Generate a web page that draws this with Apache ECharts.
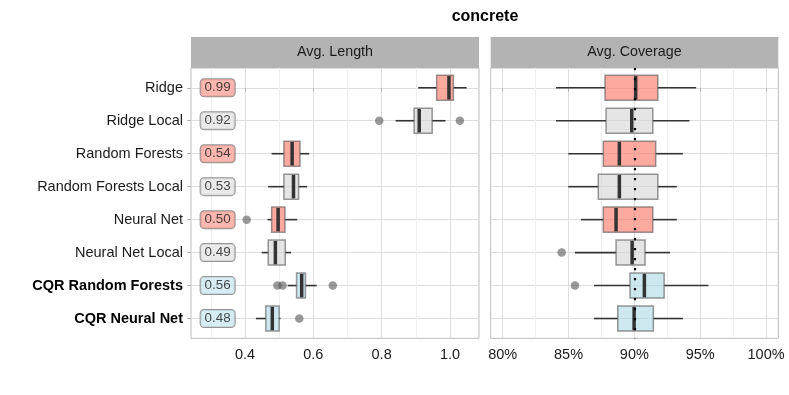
<!DOCTYPE html>
<html>
<head>
<meta charset="utf-8">
<script src="https://cdn.jsdelivr.net/npm/echarts@6.0.0/dist/echarts.min.js"></script>
<style>
html,body{margin:0;padding:0;background:#fff;}
#chart{width:789px;height:395px;}
</style>
</head>
<body>
<div id="chart"></div>
<script>
// ---------------- data ----------------
const categories = ['Ridge', 'Ridge Local', 'Random Forests', 'Random Forests Local',
  'Neural Net', 'Neural Net Local', 'CQR Random Forests', 'CQR Neural Net'];
const groups = ['base', 'local', 'base', 'local', 'base', 'local', 'cqr', 'cqr'];

// [lower whisker, Q1, median, Q3, upper whisker]
const lengthStats = [
  [0.907, 0.961, 0.997, 1.010, 1.049],
  [0.841, 0.895, 0.910, 0.948, 0.987],
  [0.478, 0.514, 0.538, 0.561, 0.588],
  [0.468, 0.514, 0.542, 0.557, 0.582],
  [0.466, 0.478, 0.497, 0.517, 0.553],
  [0.449, 0.468, 0.489, 0.518, 0.535],
  [0.525, 0.551, 0.566, 0.577, 0.610],
  [0.432, 0.461, 0.480, 0.500, 0.504]
];
// [row, value]
const lengthOutliers = [[1, 0.793], [1, 1.029], [4, 0.405], [6, 0.495], [6, 0.510], [6, 0.657], [7, 0.559]];
const lengthMeans = ['0.99', '0.92', '0.54', '0.53', '0.50', '0.49', '0.56', '0.48'];

// coverage in percent
const coverageStats = [
  [84.05, 87.77, 90.10, 91.78, 94.69],
  [84.05, 87.85, 89.80, 91.40, 94.18],
  [84.98, 87.64, 88.86, 91.62, 93.68],
  [84.98, 87.26, 88.86, 91.78, 93.22],
  [85.95, 87.64, 88.61, 91.40, 93.22],
  [85.49, 88.61, 89.83, 90.81, 92.71],
  [86.94, 89.67, 90.76, 92.26, 95.62],
  [86.94, 88.74, 89.98, 91.44, 93.68]
];
const coverageOutliers = [[5, 84.48], [6, 85.49]];
const targetCoverage = 90;

const lengthTicks = [0.4, 0.6, 0.8, 1.0];
const coverageTicks = [80, 85, 90, 95, 100];

// ---------------- styling ----------------
const FONT = 'Liberation Sans, Arial, Helvetica, sans-serif';
const FILLS = { base: 'rgba(250,128,114,0.68)', local: 'rgba(211,211,211,0.6)', cqr: 'rgba(173,216,230,0.6)' };
const LABEL_FILLS = { base: '#fba69c', local: '#e5e5e5', cqr: '#cee8f0' };
const LABEL_X = 0.32;

const P1 = { left: 191, width: 288 };
const P2 = { left: 490.7, width: 287.6 };
const TOP = 68, HEIGHT = 270.3, STRIP_H = 31;

function boxRender(params, api) {
  const row = api.value(0);
  const lo = api.coord([api.value(1), row]);
  const q1 = api.coord([api.value(2), row]);
  const md = api.coord([api.value(3), row]);
  const q3 = api.coord([api.value(4), row]);
  const hi = api.coord([api.value(5), row]);
  const band = Math.abs(api.size([0, 1])[1]);
  const h = band * 0.76;
  const y = lo[1];
  const fill = FILLS[groups[row]];
  return {
    type: 'group',
    children: [
      { type: 'line', shape: { x1: lo[0], y1: y, x2: q1[0], y2: y }, style: { stroke: '#333', lineWidth: 1.6 } },
      { type: 'line', shape: { x1: q3[0], y1: y, x2: hi[0], y2: y }, style: { stroke: '#333', lineWidth: 1.6 } },
      { type: 'rect', shape: { x: q1[0], y: y - h / 2, width: q3[0] - q1[0], height: h },
        style: { fill: fill, stroke: 'rgba(85,85,85,0.6)', lineWidth: 1.5 } },
      { type: 'line', shape: { x1: md[0], y1: y - h / 2 + 0.8, x2: md[0], y2: y + h / 2 - 0.8 },
        style: { stroke: '#333', lineWidth: 3.5 } }
    ]
  };
}

function isTick(v, ticks) {
  return ticks.some(t => Math.abs(t - v) < 1e-6);
}

function yAxisCfg(idx, showLabels) {
  return {
    type: 'value', gridIndex: idx, inverse: true, min: -0.6, max: 7.6,
    minInterval: 1, maxInterval: 1,
    axisLine: { show: false },
    axisTick: { show: showLabels, length: 4, lineStyle: { color: '#b3b3b3' }, customValues: [0, 1, 2, 3, 4, 5, 6, 7] },
    axisLabel: {
      show: showLabels, margin: 8, color: '#1a1a1a', fontFamily: FONT, fontSize: 14.5,
      customValues: [0, 1, 2, 3, 4, 5, 6, 7],
      formatter: function (v) {
        const i = Math.round(v);
        if (Math.abs(v - i) > 1e-6 || i < 0 || i >= categories.length) return '';
        return groups[i] === 'cqr' ? '{b|' + categories[i] + '}' : '{n|' + categories[i] + '}';
      },
      rich: {
        n: { fontFamily: FONT, fontSize: 14.5, color: '#1a1a1a' },
        b: { fontFamily: FONT, fontSize: 14.5, color: '#000', fontWeight: 'bold' }
      }
    },
    splitLine: { show: true, lineStyle: { color: '#dedede', width: 1 } }
  };
}

function xAxisCfg(idx, min, max, step, ticks, fmt) {
  return {
    type: 'value', gridIndex: idx, min: min, max: max,
    minInterval: step, maxInterval: step,
    axisLine: { show: false },
    axisTick: { show: true, length: 4, lineStyle: { color: '#b3b3b3' }, customValues: ticks },
    axisLabel: {
      margin: 9, color: '#1a1a1a', fontFamily: FONT, fontSize: 14.5,
      customValues: ticks,
      showMinLabel: true, showMaxLabel: true,
      formatter: function (v) { return isTick(v, ticks) ? fmt(v) : ''; }
    },
    splitLine: { show: true, lineStyle: { color: '#dedede', width: 1 } },
    minorTick: { show: false, splitNumber: 2 },
    minorSplitLine: { show: true, lineStyle: { color: '#efefef', width: 1 } }
  };
}

const chart = echarts.init(document.getElementById('chart'), null, { renderer: 'canvas' });

const option = {
  animation: false,
  backgroundColor: '#fff',
  grid: [
    { left: P1.left, top: TOP, width: P1.width, height: HEIGHT, show: true, borderColor: '#bdbdbd', borderWidth: 1, backgroundColor: '#fff' },
    { left: P2.left, top: TOP, width: P2.width, height: HEIGHT, show: true, borderColor: '#bdbdbd', borderWidth: 1, backgroundColor: '#fff' }
  ],
  xAxis: [
    xAxisCfg(0, 0.242, 1.085, 0.2, lengthTicks, v => v.toFixed(1)),
    xAxisCfg(1, 79.09, 100.93, 5, coverageTicks, v => Math.round(v) + '%')
  ],
  yAxis: [yAxisCfg(0, true), yAxisCfg(1, false)],
  graphic: [
    { type: 'text', x: 485, y: 17, z: 10,
      style: { text: 'concrete', font: 'bold 16px ' + FONT, fill: '#000', align: 'center', verticalAlign: 'middle', textAlign: 'center', textVerticalAlign: 'middle' } },
    { type: 'rect', shape: { x: P1.left, y: TOP - STRIP_H, width: P1.width, height: STRIP_H }, style: { fill: '#b3b3b3' } },
    { type: 'rect', shape: { x: P2.left, y: TOP - STRIP_H, width: P2.width, height: STRIP_H }, style: { fill: '#b3b3b3' } },
    { type: 'text', x: P1.left + P1.width / 2, y: TOP - STRIP_H / 2, z: 10,
      style: { text: 'Avg. Length', font: '14.3px ' + FONT, fill: '#1a1a1a', align: 'center', verticalAlign: 'middle', textAlign: 'center', textVerticalAlign: 'middle' } },
    { type: 'text', x: P2.left + P2.width / 2, y: TOP - STRIP_H / 2, z: 10,
      style: { text: 'Avg. Coverage', font: '14.3px ' + FONT, fill: '#1a1a1a', align: 'center', verticalAlign: 'middle', textAlign: 'center', textVerticalAlign: 'middle' } }
  ],
  series: [
    {
      type: 'custom', xAxisIndex: 0, yAxisIndex: 0, renderItem: boxRender, z: 3,
      encode: { x: [1, 2, 3, 4, 5], y: 0 },
      data: lengthStats.map((s, i) => [i].concat(s))
    },
    {
      type: 'scatter', xAxisIndex: 0, yAxisIndex: 0, z: 4, symbolSize: 8.5,
      itemStyle: { color: 'rgba(85,85,85,0.75)' },
      data: lengthOutliers.map(o => [o[1], o[0]])
    },
    {
      type: 'scatter', xAxisIndex: 0, yAxisIndex: 0, z: 5, symbolSize: 0,
      data: lengthMeans.map((m, i) => ({
        value: [LABEL_X, i, m],
        label: { backgroundColor: LABEL_FILLS[groups[i]] }
      })),
      label: {
        show: true, position: 'inside', formatter: p => p.value[2],
        fontFamily: FONT, fontSize: 13.4, color: '#1a1a1a', lineHeight: 15,
        borderColor: '#7a7a7a', borderWidth: 1, borderRadius: 3.5, padding: [1, 4, 1, 4]
      }
    },
    {
      type: 'custom', xAxisIndex: 1, yAxisIndex: 1, renderItem: boxRender, z: 3,
      encode: { x: [1, 2, 3, 4, 5], y: 0 },
      data: coverageStats.map((s, i) => [i].concat(s))
    },
    {
      type: 'scatter', xAxisIndex: 1, yAxisIndex: 1, z: 6, symbolSize: 8.5,
      itemStyle: { color: 'rgba(85,85,85,0.75)' },
      data: coverageOutliers.map(o => [o[1], o[0]]),
      markLine: {
        silent: true, symbol: 'none', z: 10, animation: false,
        label: { show: false },
        lineStyle: { color: '#000', width: 2.2, type: [2.2, 7.8], cap: 'butt' },
        data: [{ xAxis: targetCoverage }]
      }
    }
  ]
};
chart.setOption(option);
</script>
</body>
</html>
